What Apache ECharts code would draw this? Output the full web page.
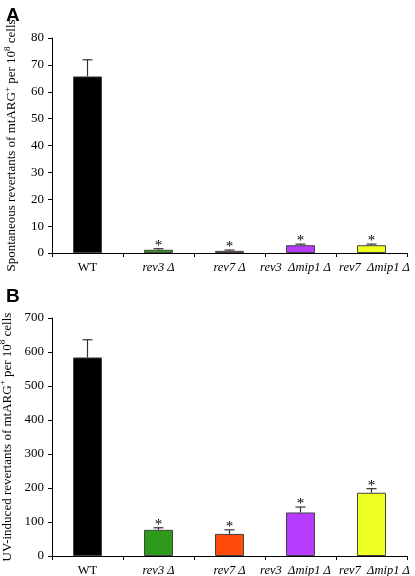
<!DOCTYPE html>
<html><head><meta charset="utf-8">
<script src="https://cdn.jsdelivr.net/npm/echarts@6/dist/echarts.min.js"></script>
<style>html,body{margin:0;padding:0;background:#fff}#c{width:415px;height:576px}</style>
</head><body><div id="c"></div>
<script>
const categories = ['WT', 'rev3 Δ', 'rev7 Δ', 'rev3  Δmip1 Δ', 'rev7  Δmip1 Δ'];
const barColors = ['#000000', '#2e9a1c', '#ff4a0a', '#b63bff', '#eeff22'];
const spontMean = [65.7, 1.2, 0.8, 2.9, 2.9];
const spontErr = [6.2, 0.4, 0.3, 0.4, 0.4];
const uvMean = [584, 77, 65, 128, 186];
const uvErr = [52, 6, 12, 16, 12];
const significant = [false, true, true, true, true];
const spontTicks = { min: 0, max: 80, interval: 10 };
const uvTicks = { min: 0, max: 700, interval: 100 };

const serif = 'Liberation Serif';
const chart = echarts.init(document.getElementById('c'));

function barData(vals) {
  return vals.map((v, i) => ({ value: v, itemStyle: { color: barColors[i] } }));
}
function errData(mean, err) {
  return mean.map((m, i) => [i, m, m + err[i], significant[i] ? 1 : 0]);
}
function renderErr(params, api) {
  const x = api.value(0), m = api.value(1), top = api.value(2), sig = api.value(3);
  const p0 = api.coord([x, m]);
  const p1 = api.coord([x, top]);
  const children = [
    { type: 'line', shape: { x1: p0[0], y1: p0[1], x2: p1[0], y2: p1[1] }, style: { stroke: '#333', lineWidth: 1.2 } },
    { type: 'line', shape: { x1: p1[0] - 5, y1: p1[1], x2: p1[0] + 5, y2: p1[1] }, style: { stroke: '#333', lineWidth: 1.2 } }
  ];
  if (sig) {
    children.push({ type: 'text', style: { text: '*', x: p1[0], y: p1[1] - 3, align: 'center', verticalAlign: 'middle', font: '15px "Liberation Serif"', fill: '#000' } });
  }
  return { type: 'group', children };
}
function yName(prefix) {
  return prefix + ' revertants of mtARG{sup|+} per 10{sup|8} cells';
}
const nameStyle = {
  fontFamily: serif, fontSize: 13, color: '#000',
  rich: { sup: { fontFamily: serif, fontSize: 9, color: '#000', verticalAlign: 'top', padding: [0, 0, 8, 0] } }
};
const lab = { fontFamily: serif, fontSize: 12.5, color: '#000' };
const labIt = Object.assign({}, lab, { fontStyle: 'italic' });
function xAxis(gi) {
  return {
    type: 'category', gridIndex: gi, data: categories,
    axisLine: { lineStyle: { color: '#000', width: 1 } },
    axisTick: { show: true, length: 4, lineStyle: { color: '#000' } },
    axisLabel: { interval: 0, fontFamily: serif, fontSize: 12.5, color: '#000', margin: 8,
      formatter: (v, i) => i === 0 ? '{n|' + v + '}' : i === 3 ? '{l|' + v + '}' : i === 4 ? '{r|' + v + '}' : '{i|' + v + '}',
      rich: {
        n: lab, i: labIt,
        l: Object.assign({}, labIt, { padding: [0, 10, 0, 0] }),
        r: Object.assign({}, labIt, { padding: [0, 0, 0, 6] })
      } }
  };
}
function yAxis(gi, t, name) {
  return {
    type: 'value', gridIndex: gi, min: t.min, max: t.max, interval: t.interval,
    name: name, nameLocation: 'middle', nameGap: 32, nameTextStyle: nameStyle,
    axisLine: { show: true, lineStyle: { color: '#000', width: 1 } },
    axisTick: { show: true, length: 4, lineStyle: { color: '#000' } },
    splitLine: { show: false },
    axisLabel: { fontFamily: serif, fontSize: 13, color: '#000', margin: 8 }
  };
}
chart.setOption({
  animation: false,
  title: [
    { text: 'A', left: 1, top: 1, textStyle: { fontFamily: 'Liberation Sans', fontWeight: 'bold', fontSize: 19, color: '#000' } },
    { text: 'B', left: 1, top: 282, textStyle: { fontFamily: 'Liberation Sans', fontWeight: 'bold', fontSize: 19, color: '#000' } }
  ],
  grid: [
    { left: 52, right: 8, top: 38, height: 215, containLabel: false, outerBoundsMode: 'none' },
    { left: 52, right: 8, top: 318, height: 238, containLabel: false, outerBoundsMode: 'none' }
  ],
  xAxis: [xAxis(0), xAxis(1)],
  yAxis: [yAxis(0, spontTicks, yName('Spontaneous')), yAxis(1, uvTicks, yName('UV-induced'))],
  series: [
    { type: 'bar', xAxisIndex: 0, yAxisIndex: 0, barWidth: 29, data: barData(spontMean), itemStyle: { borderColor: '#444', borderWidth: 1 } },
    { type: 'custom', xAxisIndex: 0, yAxisIndex: 0, renderItem: renderErr, data: errData(spontMean, spontErr), z: 5 },
    { type: 'bar', xAxisIndex: 1, yAxisIndex: 1, barWidth: 29, data: barData(uvMean), itemStyle: { borderColor: '#444', borderWidth: 1 } },
    { type: 'custom', xAxisIndex: 1, yAxisIndex: 1, renderItem: renderErr, data: errData(uvMean, uvErr), z: 5 }
  ]
});
</script></body></html>
